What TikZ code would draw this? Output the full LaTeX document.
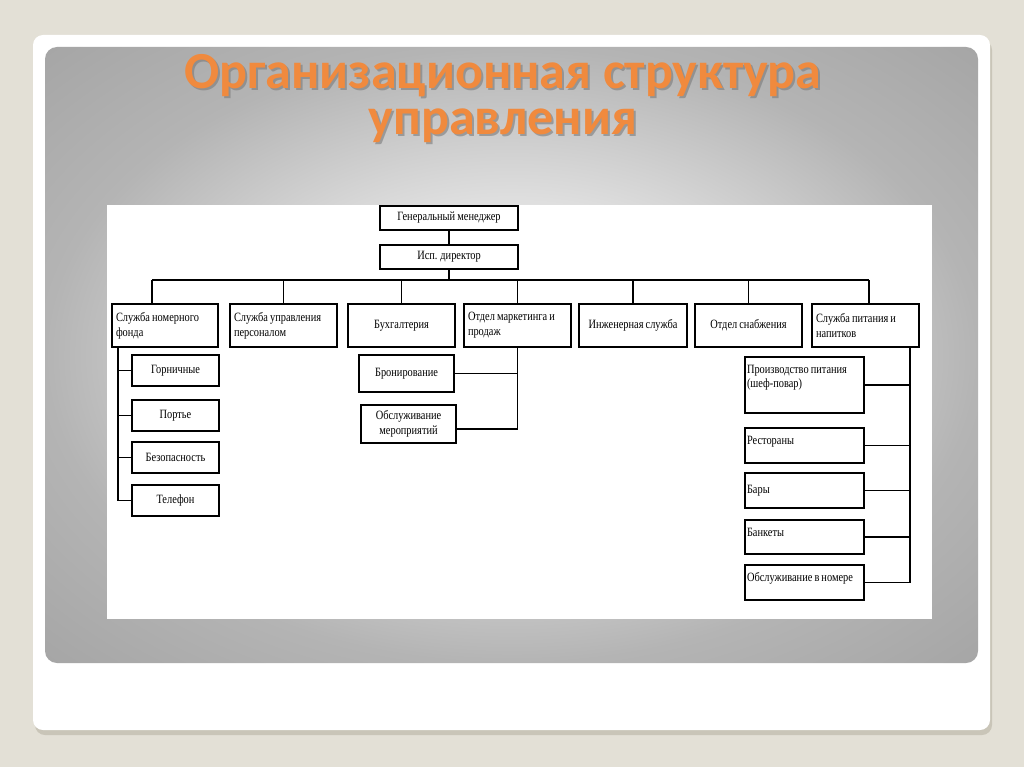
\documentclass[tikz,border=0pt]{standalone}
\usepackage{fontspec}
\setmainfont{Liberation Serif}
\newfontfamily\titlefont{Carlito}
\newfontfamily\chartfont[FakeStretch=0.82, WordSpace=0.8]{Liberation Serif}

\definecolor{slidebg}{HTML}{E3E0D6}
\definecolor{slideshadow}{HTML}{C9C5B8}
\definecolor{titleorange}{HTML}{F08A3E}
\definecolor{titleshade}{HTML}{7A7A7A}
\definecolor{panellight}{HTML}{EBEBEB}
\definecolor{panelmid}{HTML}{B4B4B4}
\definecolor{paneldark}{HTML}{A2A2A2}

\pgfdeclareradialshading{panelshading}{\pgfpoint{0bp}{0bp}}{color(0bp)=(panellight); color(9bp)=(panellight); color(25bp)=(panelmid); color(38bp)=(paneldark)}

\begin{document}
\begin{tikzpicture}[x=0.025cm, y=-0.025cm,
        unit/.style={draw, line width=1.3pt, fill=white, font=\chartfont\fontsize{9}{10.5}\selectfont,
            inner xsep=0.1cm, inner ysep=0.1cm, outer sep=0pt, anchor=north west},
        ctr/.style={unit, align=center},
        lft/.style={unit, align=flush left},
        food/.style={unit, align=flush left, inner xsep=0.05cm, text width=2.875cm},
        link/.style={line width=1.3pt},
        heading/.style={font=\titlefont\bfseries\fontsize{37}{33}\selectfont, align=center, anchor=base}]
        \useasboundingbox (0,0) rectangle (1024,767);
        \fill[slidebg] (0,0) rectangle (1024,767);
        \fill[slideshadow, rounded corners=0.25cm] (35,40) rectangle (992,735);
        \fill[white, rounded corners=0.25cm] (33,35) rectangle (990,730);
        \shade[shading=panelshading, rounded corners=0.3cm] (45,47) rectangle (978,663);
        \fill[white] (107,205) rectangle (932,619);

        \node[heading, text=titleshade, opacity=0.6] (titleshadow) at (505,137) {Организационная структура\\управления};
        \node[heading, text=titleorange] (title) at (503,135) {Организационная структура\\управления};

        \node[ctr, minimum width=3.45cm, minimum height=0.6cm] (gen) at (380,206) {Генеральный менеджер};
        \node[ctr, minimum width=3.45cm, minimum height=0.6cm] (isp) at (380,245) {Исп. директор};
        \coordinate (bus) at (449,280);
        \draw[link] (gen) -- (isp);
        \draw[link] (isp) -- (isp |- bus);

        \node[lft, text width=2.45cm, minimum height=1.075cm] (s1) at (112,304) {Служба номерного\\фонда};
        \node[lft, text width=2.475cm, minimum height=1.075cm] (s2) at (230,304) {Служба управления\\персоналом};
        \node[ctr, minimum width=2.675cm, minimum height=1.075cm] (s3) at (348,304) {Бухгалтерия};
        \node[lft, text width=2.475cm, minimum height=1.075cm] (s4) at (464,304) {Отдел маркетинга и\\продаж};
        \node[ctr, minimum width=2.7cm, minimum height=1.075cm] (s5) at (579,304) {Инженерная служба};
        \node[ctr, minimum width=2.675cm, minimum height=1.075cm] (s6) at (695,304) {Отдел снабжения};
        \node[lft, text width=2.475cm, minimum height=1.075cm] (s7) at (812,304) {Служба питания и\\напитков};
        \foreach \nm/\sh in {s1/-0.325, s2/0, s3/0, s4/0, s5/0, s6/0, s7/0.09}{%
            \coordinate (d\nm) at ([xshift=\sh cm]\nm.north);
            \draw[link] (d\nm) -- (d\nm |- bus);}
        \draw[link] (ds1 |- bus) -- (ds7 |- bus);

        \coordinate (spl) at ([xshift=0.15cm]s1.south west);
        \foreach \nm/\txt/\y in {gorn/Горничные/355, port/Портье/400, bez/Безопасность/442, tel/Телефон/485}{%
            \node[ctr, minimum width=2.175cm, minimum height=0.775cm] (\nm) at (132,\y) {\txt};
            \draw[link] (\nm.west) -- (\nm.west -| spl);}
        \draw[link] (spl) |- (tel.west);

        \node[ctr, minimum width=2.375cm, minimum height=0.925cm] (bron) at (359,355) {Бронирование};
        \node[ctr, minimum width=2.375cm, minimum height=0.95cm] (meropr) at (361,405) {Обслуживание\\мероприятий};
        \draw[link] (bron.east) -- (bron.east -| s4.south);
        \draw[link] (s4.south) |- ([yshift=-0.12cm]meropr.east);

        \coordinate (spr) at ([xshift=-0.225cm]s7.south east);
        \node[food, text height=0.3cm, text depth=0.9cm, minimum height=1.4cm] (prod) at (745,357) {Производство питания\\(шеф-повар)};
        \node[food, text height=0.3cm, text depth=0.375cm] (rest) at (745,428) {Рестораны};
        \node[food, minimum height=0.875cm] (bary) at (745,473) {Бары};
        \node[food, text height=0.3cm, text depth=0.35cm] (bank) at (745,520) {Банкеты};
        \node[food, text height=0.3cm, text depth=0.375cm] (nomer) at (745,565) {Обслуживание в номере};
        \foreach \nm in {prod, rest, bary, bank}{%
            \draw[link] (\nm.east) -- (\nm.east -| spr);}
        \draw[link] (spr) |- (nomer.east);
\end{tikzpicture}
\end{document}
